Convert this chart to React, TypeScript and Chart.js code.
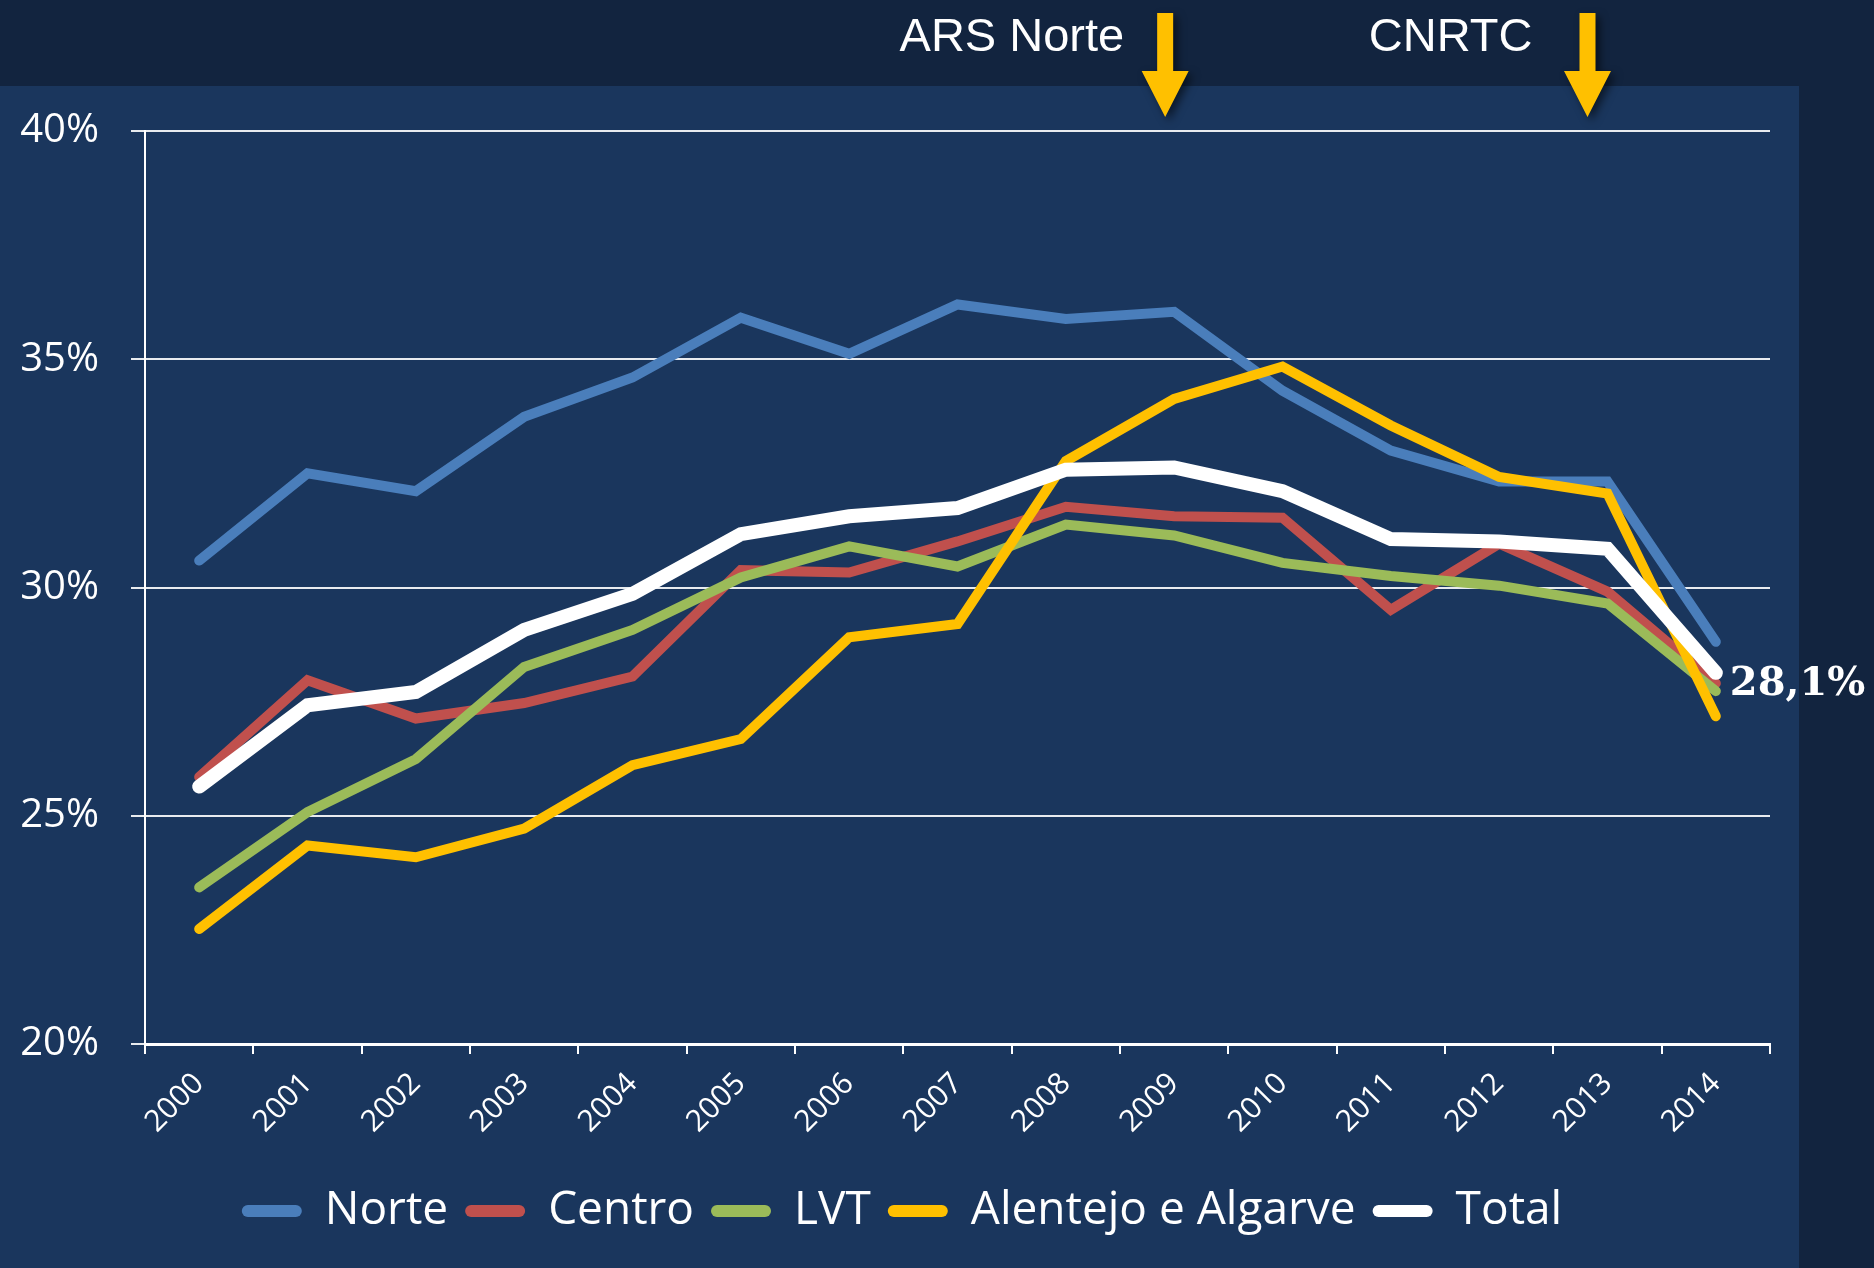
import React, { useEffect, useRef } from 'react';
import { Chart, registerables } from 'chart.js';

Chart.register(...registerables);

// ---- data ----
const years = ['2000', '2001', '2002', '2003', '2004', '2005', '2006', '2007', '2008', '2009', '2010', '2011', '2012', '2013', '2014'];
const norte = [30.59, 32.5, 32.11, 33.74, 34.6, 35.91, 35.12, 36.2, 35.88, 36.04, 34.31, 33.0, 32.32, 32.32, 28.81];
const centro = [25.85, 27.97, 27.13, 27.47, 28.05, 30.38, 30.33, 31.01, 31.77, 31.56, 31.53, 29.51, 30.96, 29.91, 27.9];
const lvt = [23.43, 25.08, 26.24, 28.26, 29.07, 30.22, 30.9, 30.46, 31.38, 31.14, 30.54, 30.25, 30.04, 29.65, 27.73];
const alentejo = [22.52, 24.35, 24.09, 24.72, 26.11, 26.68, 28.91, 29.2, 32.77, 34.13, 34.84, 33.55, 32.42, 32.06, 27.18];
const total = [25.64, 27.42, 27.71, 29.07, 29.86, 31.17, 31.56, 31.74, 32.58, 32.63, 32.11, 31.06, 31.01, 30.85, 28.13];
const seriesNames = ['Norte', 'Centro', 'LVT', 'Alentejo e Algarve', 'Total'];
const yMin = 20;
const yMax = 40;
const yStep = 5;
const annotationLabels = ['ARS Norte', 'CNRTC'];
const annotationYears = ['2009', '2013'];
const lastValueLabel = '28,1%';

// ---- styles ----
const colors = ['#4a7ebb', '#c0504d', '#9bbb59', '#ffc000', '#ffffff'];
const widths = [10, 10, 10, 10, 14];
const drawOrder = [4, 3, 2, 1, 0];
const arrowNudge = [-9, -20];
const textNudge = [41, 55];
const legendShift = 17;

const bgPlugin = {
  id: 'bgPanels',
  beforeDraw(chart: any) {
    const { ctx, width, height } = chart;
    ctx.save();
    ctx.fillStyle = '#12243f';
    ctx.fillRect(0, 0, width, height);
    ctx.fillStyle = '#1a365d';
    ctx.fillRect(0, 86, 1799, height - 86);
    ctx.restore();
  },
};

const legendShiftPlugin = {
  id: 'legendShift',
  afterLayout(chart: any) {
    if (chart.legend) {
      chart.legend.left += legendShift;
      chart.legend.right += legendShift;
    }
  },
};

const overlayPlugin = {
  id: 'overlay',
  afterDraw(chart: any) {
    const { ctx } = chart;
    const xs = chart.scales.x;
    annotationLabels.forEach((label, i) => {
      const cx = xs.getPixelForValue(years.indexOf(annotationYears[i])) + arrowNudge[i];
      ctx.save();
      ctx.shadowColor = 'rgba(0,0,0,0.55)';
      ctx.shadowBlur = 8;
      ctx.shadowOffsetX = 4;
      ctx.shadowOffsetY = 4;
      ctx.fillStyle = '#ffc000';
      ctx.beginPath();
      ctx.moveTo(cx - 8, 13);
      ctx.lineTo(cx + 8, 13);
      ctx.lineTo(cx + 8, 71);
      ctx.lineTo(cx + 23.5, 71);
      ctx.lineTo(cx, 117);
      ctx.lineTo(cx - 23.5, 71);
      ctx.lineTo(cx - 8, 71);
      ctx.closePath();
      ctx.fill();
      ctx.restore();

      ctx.save();
      ctx.fillStyle = '#ffffff';
      ctx.font = '47px "Liberation Sans", Arial, sans-serif';
      ctx.textAlign = 'right';
      ctx.textBaseline = 'middle';
      ctx.fillText(label, cx - textNudge[i], 38);
      ctx.restore();
    });

    const meta = chart.getDatasetMeta(4);
    const pt = meta.data[meta.data.length - 1];
    if (pt) {
      ctx.save();
      ctx.fillStyle = '#ffffff';
      ctx.font = 'bold 40px "DejaVu Serif", serif';
      ctx.textAlign = 'left';
      ctx.textBaseline = 'middle';
      ctx.fillText(lastValueLabel, pt.x + 14, pt.y + 12);
      ctx.restore();
    }
  },
};

export default function App() {
  const ref = useRef<HTMLCanvasElement>(null);

  useEffect(() => {
    document.body.style.margin = '0';
    let chart: Chart | null = null;
    let cancelled = false;
    const fontsReady = (document as any).fonts
      ? Promise.all([
          (document as any).fonts.load('46px "Open Sans"'),
          (document as any).fonts.load('47px "Liberation Sans"'),
          (document as any).fonts.load('bold 40px "DejaVu Serif"'),
        ]).catch(() => null)
      : Promise.resolve(null);

    fontsReady.then(() => {
      if (cancelled || !ref.current) return;
      const seriesData = [norte, centro, lvt, alentejo, total];
      chart = new Chart(ref.current, {
        type: 'line',
        data: {
          labels: years,
          datasets: seriesNames.map((name, i) => ({
            label: name,
            data: seriesData[i],
            borderColor: colors[i],
            backgroundColor: colors[i],
            borderWidth: widths[i],
            borderCapStyle: 'round' as const,
            borderJoinStyle: 'miter' as const,
            pointRadius: 0,
            pointHoverRadius: 0,
            tension: 0,
            fill: false,
            order: drawOrder[i],
          })),
        },
        options: {
          responsive: false,
          animation: false,
          events: [],
          layout: { padding: { top: 131, right: 104, bottom: 24, left: 0 } },
          plugins: {
            tooltip: { enabled: false },
            legend: {
              position: 'bottom',
              labels: {
                usePointStyle: false,
                boxWidth: 60,
                boxHeight: 12,
                useBorderRadius: true,
                borderRadius: 6,
                padding: 17,
                color: '#ffffff',
                font: { family: '"Open Sans", sans-serif', size: 46 },
                generateLabels: (c: any) =>
                  Chart.defaults.plugins.legend.labels
                    .generateLabels(c)
                    .map((l: any) => ({ ...l, lineWidth: 0, fillStyle: colors[l.datasetIndex] })),
                sort: (a: any, b: any) => a.datasetIndex - b.datasetIndex,
              },
            },
          },
          scales: {
            x: {
              type: 'category',
              offset: true,
              afterFit: (s: any) => {
                s.height = 127;
              },
              grid: {
                offset: true,
                drawOnChartArea: false,
                drawTicks: true,
                tickLength: 10,
                color: '#ffffff',
                lineWidth: 2,
              },
              border: { display: true, color: '#ffffff', width: 3 },
              ticks: {
                color: '#ffffff',
                autoSkip: false,
                minRotation: 45,
                maxRotation: 45,
                padding: 12,
                font: { family: '"Open Sans", sans-serif', size: 30 },
              },
            },
            y: {
              min: yMin,
              max: yMax,
              afterFit: (s: any) => {
                s.width = 145;
              },
              grid: {
                color: 'rgba(255,255,255,0.9)',
                lineWidth: 2,
                drawTicks: true,
                tickLength: 14,
              },
              border: { display: true, color: '#ffffff', width: 2 },
              ticks: {
                stepSize: yStep,
                color: '#ffffff',
                padding: 32,
                font: { family: '"Open Sans", sans-serif', size: 40 },
                callback: (v: any) => `${v}%`,
              },
            },
          },
        },
        plugins: [bgPlugin, legendShiftPlugin, overlayPlugin],
      } as any);
    });

    return () => {
      cancelled = true;
      if (chart) chart.destroy();
    };
  }, []);

  return (
    <div style={{ width: 1874, height: 1268 }}>
      <canvas ref={ref} width={1874} height={1268} style={{ display: 'block' }} />
    </div>
  );
}
